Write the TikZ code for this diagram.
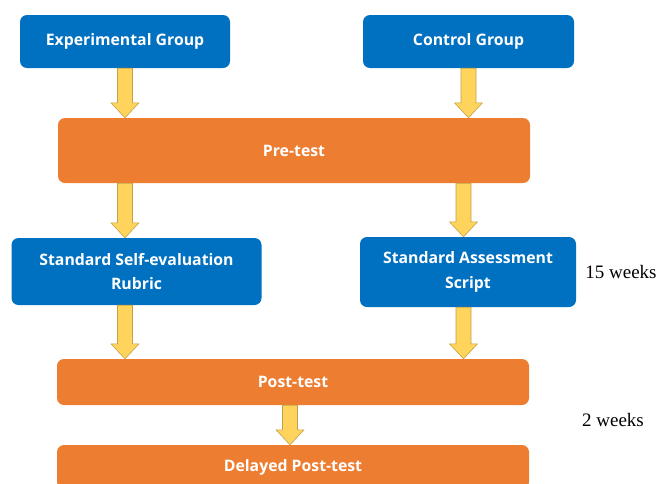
\documentclass[tikz,border=0pt]{standalone}
\usepackage{fontspec}
\setmainfont{Liberation Serif}
\newfontfamily\boxfont{Open Sans}
\usepackage{tikz}
\usetikzlibrary{calc}
\definecolor{grpblue}{RGB}{0,112,192}
\definecolor{testorange}{RGB}{237,125,49}
\definecolor{arrowfill}{RGB}{255,212,92}
\definecolor{arrowedge}{RGB}{196,160,70}

\begin{document}
\begin{tikzpicture}[x=1pt, y=-1pt,
		block/.style={rounded corners=7pt, draw=none, align=center, text=white, font=\boxfont\bfseries\fontsize{15.8}{24.5}\selectfont, inner sep=0pt},
		grp/.style={block, fill=grpblue},
		tst/.style={block, fill=testorange, minimum width=472pt},
		fat/.style={fill=arrowfill, draw=arrowedge, line width=0.6pt,
			to path={let \p1=(\tikztostart), \p2=(\tikztotarget) in
				(\x1-7.5pt,\y1) -- (\x1-7.5pt,\y2+15pt) -- (\x1-14pt,\y2+15pt) -- (\x1,\y2)
				-- (\x1+14pt,\y2+15pt) -- (\x1+7.5pt,\y2+15pt) -- (\x1+7.5pt,\y1) -- cycle}},
		note/.style={font=\fontsize{19}{22}\selectfont, inner sep=0pt}
		]
		\clip (0,0) rectangle (659,483);
		\node[grp, minimum width=210pt, minimum height=53pt] (eg) at (125,41.5) {Experimental Group};
		\node[grp, minimum width=211pt, minimum height=53pt] (cg) at (468.5,41.5) {Control Group};
		\node[tst, minimum height=65pt] (pre) at (294,150.5) {Pre-test};
		\node[grp, minimum width=250pt, minimum height=67pt] (sse) at (136.5,271.5) {Standard Self-evaluation\\Rubric};
		\node[grp, minimum width=216pt, minimum height=70pt] (sas) at (468,272) {Standard Assessment\\Script};
		\node[tst, minimum height=46pt] (post) at (293,382) {Post-test};
		\node[tst, minimum height=44pt] (dpt) at (293,467) {Delayed Post-test};
		\node[note] (w15) at (621,272) {15 weeks};
		\node[note] (w2) at (613,420) {2 weeks};
		% block arrows
		\draw[fat] (eg.south) to (eg.south |- pre.north);
		\draw[fat] (cg.south) to (cg.south |- pre.north);
		\draw[fat] (eg.south |- pre.south) to (eg.south |- sse.north);
		\draw[fat] ([xshift=-5pt]cg.south |- pre.south) to ([xshift=-5pt]cg.south |- sas.north);
		\draw[fat] (eg.south |- sse.south) to (eg.south |- post.north);
		\draw[fat] ([xshift=-5pt]cg.south |- sas.south) to ([xshift=-5pt]cg.south |- post.north);
		\draw[fat] ([xshift=-3pt]post.south) to ([xshift=-3pt]dpt.north);
\end{tikzpicture}
\end{document}
